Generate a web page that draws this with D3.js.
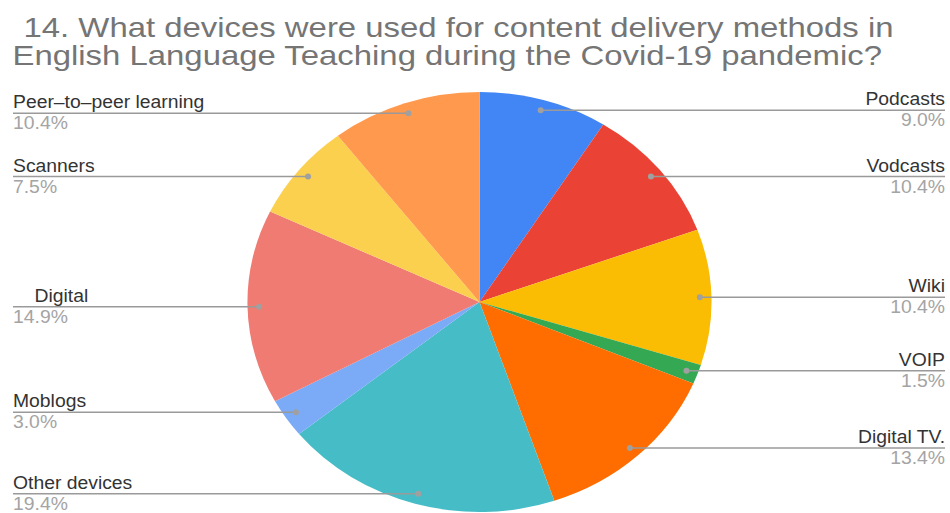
<!DOCTYPE html>
<html>
<head>
<meta charset="utf-8">
<script src="https://cdn.jsdelivr.net/npm/d3@7"></script>
<style>
  html, body { margin: 0; padding: 0; background: #fff; }
  svg { display: block; font-family: "Liberation Sans", Arial, sans-serif; }
  text { white-space: pre; }
</style>
</head>
<body>
<svg id="chart" width="950" height="513"></svg>
<script>
// ---- data ----
const titleLines = [
  "14. What devices were used for content delivery methods in",
  "English Language Teaching during the Covid-19 pandemic?"
];
const categories = ["Podcasts", "Vodcasts", "Wiki", "VOIP", "Digital TV.", "Other devices", "Moblogs", "    Digital", "Scanners", "Peer\u2013to\u2013peer learning"];
const counts     = [6, 7, 7, 1, 9, 13, 2, 10, 5, 7];
const colors     = ["#4285f4", "#ea4335", "#fbbc04", "#34a853", "#ff6d01", "#46bdc6", "#7baaf7", "#f07b72", "#fcd04f", "#ff994d"];

// ---- layout ----
const W = 950, H = 513;
const cx = 479.5, cy = 302, R = 210, sx = 1.105;
const svg = d3.select("#chart");

// title
svg.selectAll("text.title").data(titleLines).join("text")
  .attr("class", "title")
  .attr("transform", (d, i) => `translate(${i === 0 ? 23.5 : 12.5},${i === 0 ? 36.5 : 65}) scale(1.175,1)`)
  .attr("font-size", 28)
  .attr("fill", "#757575")
  .text(d => d);

const total = d3.sum(counts);
const data = categories.map((c, i) => ({ name: c, value: counts[i], color: colors[i] }));
const pie = d3.pie().value(d => d.value).sort(null);
const arcs = pie(data);
const arc = d3.arc().innerRadius(0).outerRadius(R);
const anchorArc = d3.arc().innerRadius(R * 0.95).outerRadius(R * 0.95);

const g = svg.append("g").attr("transform", `translate(${cx},${cy}) scale(${sx},1)`);
g.selectAll("path").data(arcs).join("path")
  .attr("d", arc)
  .attr("fill", d => d.data.color);

const fmt = d3.format(".1%");
const leftX = 13, rightX = 945;

arcs.forEach(a => {
  const c = anchorArc.centroid(a);
  const px = cx + sx * c[0], py = cy + c[1];
  const mid = (a.startAngle + a.endAngle) / 2;
  const left = mid > Math.PI;
  svg.append("line")
    .attr("x1", left ? leftX : px).attr("x2", left ? px : rightX)
    .attr("y1", py).attr("y2", py)
    .attr("stroke", "#9a9a9a").attr("stroke-width", 1.5);
  svg.append("circle").attr("cx", px).attr("cy", py).attr("r", 3).attr("fill", "#a0a0a0");
  const tx = left ? leftX : rightX;
  const anchor = left ? "start" : "end";
  svg.append("text")
    .attr("transform", `translate(${tx},${py - 5}) scale(${sx},1)`)
    .attr("text-anchor", anchor)
    .attr("font-size", 17.5)
    .attr("fill", "#333")
    .text(a.data.name);
  svg.append("text")
    .attr("transform", `translate(${tx},${py + 16}) scale(${sx},1)`)
    .attr("text-anchor", anchor)
    .attr("font-size", 17.5)
    .attr("fill", "#a4a4a4")
    .text(fmt(a.data.value / total));
});
</script>
</body>
</html>
